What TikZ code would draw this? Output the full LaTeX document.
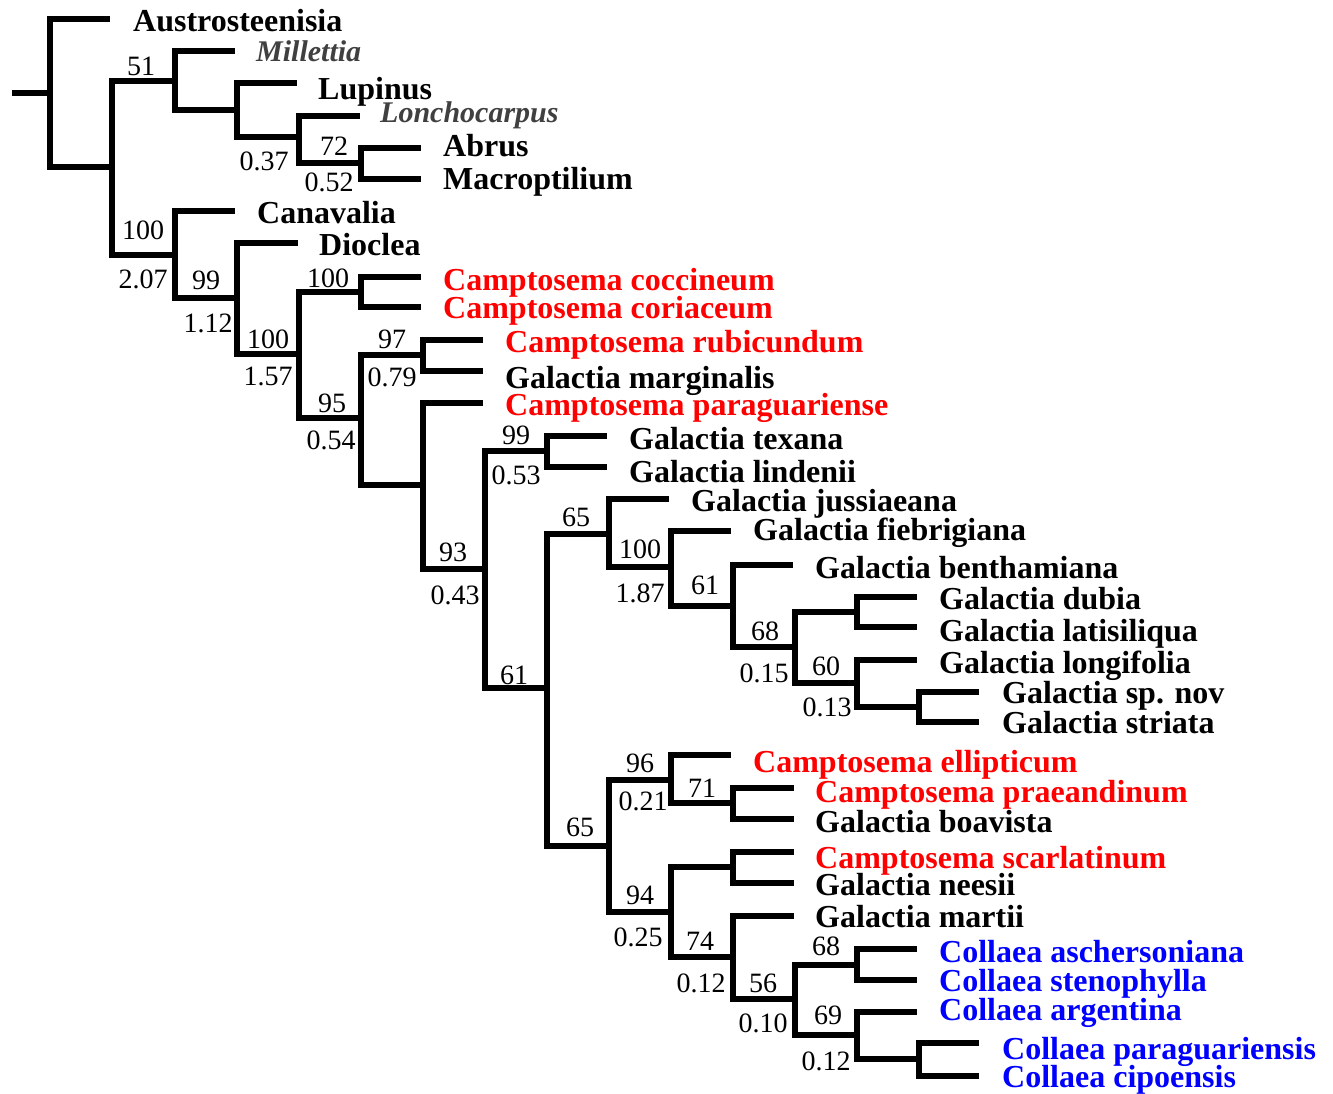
\documentclass[tikz,border=0pt]{standalone}
\usepackage{fontspec}
\setmainfont{Liberation Serif}
\definecolor{campred}{RGB}{255,0,0}
\definecolor{collblue}{RGB}{0,0,255}
\definecolor{outgrey}{RGB}{64,64,64}
\begin{document}
\begin{tikzpicture}[x=1pt,y=-1pt,
  br/.style={line width=6pt,line cap=butt,line join=miter},
  taxon/.style={anchor=base west,inner sep=0pt,font=\fontsize{32}{36}\selectfont\bfseries},
  camp/.style={taxon,text=campred},
  coll/.style={taxon,text=collblue},
  outg/.style={anchor=base west,inner sep=0pt,text=outgrey,font=\fontsize{30}{34}\selectfont\bfseries\itshape},
  num/.style={anchor=base,inner sep=0pt,font=\fontsize{28}{32}\selectfont}]
\useasboundingbox (0,0) rectangle (1333,1094);
% internal nodes
\coordinate (R0) at (12,93);
\coordinate (A) at (50,93);
\coordinate (B) at (112,167);
\coordinate (C) at (175,81);
\coordinate (D) at (237,110);
\coordinate (E) at (299,137);
\coordinate (F) at (361,163);
\coordinate (G) at (175,255);
\coordinate (H) at (237,298);
\coordinate (I) at (299,354);
\coordinate (J) at (361,292);
\coordinate (K) at (361,418);
\coordinate (L) at (423,355);
\coordinate (M) at (423,485);
\coordinate (N) at (485,569);
\coordinate (O) at (547,451);
\coordinate (P) at (547,688);
\coordinate (Q) at (609,534);
\coordinate (R) at (671,567);
\coordinate (S) at (733,606);
\coordinate (T) at (795,647);
\coordinate (V) at (857,612);
\coordinate (U) at (857,683);
\coordinate (W) at (919,707);
\coordinate (X) at (609,846);
\coordinate (Y) at (671,780);
\coordinate (Z) at (733,803);
\coordinate (AA) at (671,912);
\coordinate (AB) at (733,867);
\coordinate (AC) at (733,957);
\coordinate (AD) at (795,999);
\coordinate (AE) at (857,965);
\coordinate (AF) at (857,1035);
\coordinate (AG) at (919,1059);
% tips
\coordinate (tAus) at (110,19);
\coordinate (tMil) at (235,51);
\coordinate (tLup) at (297,83);
\coordinate (tLon) at (360,116);
\coordinate (tAbr) at (421,148);
\coordinate (tMac) at (421,179);
\coordinate (tCan) at (235,211);
\coordinate (tDio) at (298,243);
\coordinate (tCoc) at (421,277);
\coordinate (tCor) at (421,307);
\coordinate (tRub) at (483,340);
\coordinate (tMar) at (483,371);
\coordinate (tPar) at (483,403);
\coordinate (tTex) at (607,436);
\coordinate (tLin) at (607,467);
\coordinate (tJus) at (669,499);
\coordinate (tFie) at (731,531);
\coordinate (tBen) at (793,565);
\coordinate (tDub) at (917,597);
\coordinate (tLat) at (917,627);
\coordinate (tLng) at (917,660);
\coordinate (tSpn) at (979,692);
\coordinate (tStr) at (979,722);
\coordinate (tEll) at (731,755);
\coordinate (tPra) at (794,788);
\coordinate (tBoa) at (794,819);
\coordinate (tSca) at (794,852);
\coordinate (tNee) at (794,883);
\coordinate (tMrt) at (794,916);
\coordinate (tAsc) at (917,949);
\coordinate (tSte) at (917,980);
\coordinate (tArg) at (917,1012);
\coordinate (tCpa) at (979,1043);
\coordinate (tCip) at (979,1076);
% branches
\draw[br] (R0) -- (A);
\draw[br] (A) |- (tAus);  \draw[br] (A) |- (B);
\draw[br] (B) |- (C);     \draw[br] (B) |- (G);
\draw[br] (C) |- (tMil);  \draw[br] (C) |- (D);
\draw[br] (D) |- (tLup);  \draw[br] (D) |- (E);
\draw[br] (E) |- (tLon);  \draw[br] (E) |- (F);
\draw[br] (F) |- (tAbr);  \draw[br] (F) |- (tMac);
\draw[br] (G) |- (tCan);  \draw[br] (G) |- (H);
\draw[br] (H) |- (tDio);  \draw[br] (H) |- (I);
\draw[br] (I) |- (J);     \draw[br] (I) |- (K);
\draw[br] (J) |- (tCoc);  \draw[br] (J) |- (tCor);
\draw[br] (K) |- (L);     \draw[br] (K) |- (M);
\draw[br] (L) |- (tRub);  \draw[br] (L) |- (tMar);
\draw[br] (M) |- (tPar);  \draw[br] (M) |- (N);
\draw[br] (N) |- (O);     \draw[br] (N) |- (P);
\draw[br] (O) |- (tTex);  \draw[br] (O) |- (tLin);
\draw[br] (P) |- (Q);     \draw[br] (P) |- (X);
\draw[br] (Q) |- (tJus);  \draw[br] (Q) |- (R);
\draw[br] (R) |- (tFie);  \draw[br] (R) |- (S);
\draw[br] (S) |- (tBen);  \draw[br] (S) |- (T);
\draw[br] (T) |- (V);     \draw[br] (T) |- (U);
\draw[br] (V) |- (tDub);  \draw[br] (V) |- (tLat);
\draw[br] (U) |- (tLng);  \draw[br] (U) |- (W);
\draw[br] (W) |- (tSpn);  \draw[br] (W) |- (tStr);
\draw[br] (X) |- (Y);     \draw[br] (X) |- (AA);
\draw[br] (Y) |- (tEll);  \draw[br] (Y) |- (Z);
\draw[br] (Z) |- (tPra);  \draw[br] (Z) |- (tBoa);
\draw[br] (AA) |- (AB);   \draw[br] (AA) |- (AC);
\draw[br] (AB) |- (tSca); \draw[br] (AB) |- (tNee);
\draw[br] (AC) |- (tMrt); \draw[br] (AC) |- (AD);
\draw[br] (AD) |- (AE);   \draw[br] (AD) |- (AF);
\draw[br] (AE) |- (tAsc); \draw[br] (AE) |- (tSte);
\draw[br] (AF) |- (tArg); \draw[br] (AF) |- (AG);
\draw[br] (AG) |- (tCpa); \draw[br] (AG) |- (tCip);
% taxon labels
\node[taxon] (lAus) at (133,32) {Austrosteenisia};
\node[outg]  (lMil) at (256,62) {Millettia};
\node[taxon] (lLup) at (318,100) {Lupinus};
\node[outg]  (lLon) at (380,123) {Lonchocarpus};
\node[taxon] (lAbr) at (443,157) {Abrus};
\node[taxon] (lMac) at (443,190) {Macroptilium};
\node[taxon] (lCan) at (257,223) {Canavalia};
\node[taxon] (lDio) at (319,255) {Dioclea};
\node[camp]  (lCoc) at (443,290) {Camptosema coccineum};
\node[camp]  (lCor) at (443,318) {Camptosema coriaceum};
\node[camp]  (lRub) at (505,352) {Camptosema rubicundum};
\node[taxon] (lMar) at (505,388) {Galactia marginalis};
\node[camp]  (lPar) at (505,415) {Camptosema paraguariense};
\node[taxon] (lTex) at (629,449) {Galactia texana};
\node[taxon] (lLin) at (629,482) {Galactia lindenii};
\node[taxon] (lJus) at (691,511) {Galactia jussiaeana};
\node[taxon] (lFie) at (753,540) {Galactia fiebrigiana};
\node[taxon] (lBen) at (815,578) {Galactia benthamiana};
\node[taxon] (lDub) at (939,609) {Galactia dubia};
\node[taxon] (lLat) at (939,641) {Galactia latisiliqua};
\node[taxon] (lLng) at (939,673) {Galactia longifolia};
\node[taxon] (lSpn) at (1002,703) {Galactia sp. nov};
\node[taxon] (lStr) at (1002,733) {Galactia striata};
\node[camp]  (lEll) at (753,772) {Camptosema ellipticum};
\node[camp]  (lPra) at (815,802) {Camptosema praeandinum};
\node[taxon] (lBoa) at (815,832) {Galactia boavista};
\node[camp]  (lSca) at (815,868) {Camptosema scarlatinum};
\node[taxon] (lNee) at (815,895) {Galactia neesii};
\node[taxon] (lMrt) at (815,927) {Galactia martii};
\node[coll]  (lAsc) at (939,962) {Collaea aschersoniana};
\node[coll]  (lSte) at (939,991) {Collaea stenophylla};
\node[coll]  (lArg) at (939,1020) {Collaea argentina};
\node[coll]  (lCpa) at (1002,1059) {Collaea paraguariensis};
\node[coll]  (lCip) at (1002,1087) {Collaea cipoensis};
% support values and branch lengths
\node[num] (n1)  at (141,76) {51};
\node[num] (n2)  at (264,171) {0.37};
\node[num] (n3)  at (334,156) {72};
\node[num] (n4)  at (329,192) {0.52};
\node[num] (n5)  at (143,240) {100};
\node[num] (n6)  at (143,288) {2.07};
\node[num] (n7)  at (206,289) {99};
\node[num] (n8)  at (208,332) {1.12};
\node[num] (n9)  at (268,348) {100};
\node[num] (n10) at (268,385) {1.57};
\node[num] (n11) at (328,287) {100};
\node[num] (n12) at (332,412) {95};
\node[num] (n13) at (331,449) {0.54};
\node[num] (n14) at (392,348) {97};
\node[num] (n15) at (392,386) {0.79};
\node[num] (n16) at (453,561) {93};
\node[num] (n17) at (455,604) {0.43};
\node[num] (n18) at (516,444) {99};
\node[num] (n19) at (516,484) {0.53};
\node[num] (n20) at (514,684) {61};
\node[num] (n21) at (576,526) {65};
\node[num] (n22) at (640,558) {100};
\node[num] (n23) at (640,602) {1.87};
\node[num] (n24) at (705,594) {61};
\node[num] (n25) at (765,640) {68};
\node[num] (n26) at (764,682) {0.15};
\node[num] (n27) at (826,675) {60};
\node[num] (n28) at (827,716) {0.13};
\node[num] (n29) at (640,772) {96};
\node[num] (n30) at (643,810) {0.21};
\node[num] (n31) at (580,836) {65};
\node[num] (n32) at (702,797) {71};
\node[num] (n33) at (640,904) {94};
\node[num] (n34) at (638,946) {0.25};
\node[num] (n35) at (700,950) {74};
\node[num] (n36) at (701,992) {0.12};
\node[num] (n37) at (763,992) {56};
\node[num] (n38) at (763,1032) {0.10};
\node[num] (n39) at (826,955) {68};
\node[num] (n40) at (828,1024) {69};
\node[num] (n41) at (826,1070) {0.12};
\end{tikzpicture}
\end{document}
